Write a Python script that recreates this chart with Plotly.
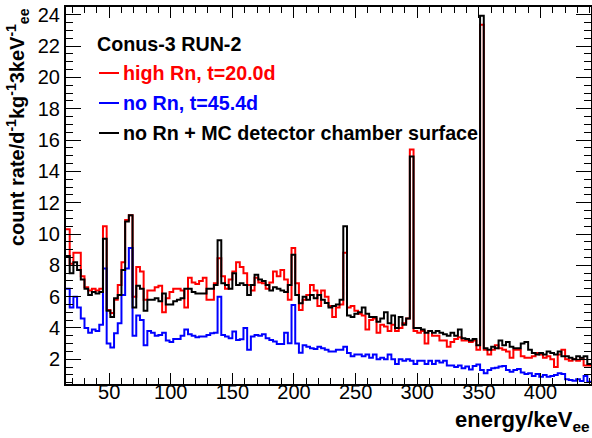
import plotly.graph_objects as go

# ---- data (3 keV bins starting at 15 keV) ----
BIN_START = 15
BIN_WIDTH = 3

high_rn = [
    10.3, 8.1, 8.8, 8.8, 7.3, 6.6, 6.4, 6.5, 6.4, 6.5,
    10.5, 5.15, 4.95, 5.8, 6.75, 8.2, 10.9, 11.2, 6.0, 7.9,
    7.6, 5.8, 6.4, 6.4, 6.6, 6.7, 5.0, 5.9, 6.3, 6.5,
    6.5, 6.4, 5.3, 7.2, 6.9, 6.8,
    7.0, 7.2, 5.8, 5.8, 6.85, 8.45, 7.3, 6.5, 7.1, 7.6,
    8.2, 7.9, 7.5, 6.75, 6.4, 7.2, 6.9, 6.85, 6.5, 6.9,
    7.6, 7.3, 7.7, 7.1, 5.8, 9.1, 6.85, 5.15, 5.8, 6.1,
    6.75, 6.4, 5.4, 6.4, 6.0, 5.4,
    4.7, 5.3, 5.5, 8.8, 5.3, 5.4, 5.1, 4.9, 4.8, 3.9,
    4.5, 4.6, 3.7, 4.2, 4.1, 3.8, 4.2, 3.8, 4.0, 4.3,
    4.6, 15.4, 3.8, 3.7, 3.8, 3.0, 3.8, 3.5, 3.5, 3.2,
    3.2, 2.8, 3.1, 3.3, 3.4, 3.2, 3.2, 3.1, 3.2, 2.6,
    23.36, 2.6, 2.3, 2.6, 2.9, 2.7, 2.6, 2.5, 2.1, 2.6,
    2.6, 2.2, 2.1, 2.1, 2.2, 2.4, 2.3, 2.1, 2.2, 2.0,
    1.5, 2.3, 2.6, 2.0, 1.9, 2.0, 1.9, 2.0, 1.6, 1.6,
]

no_rn = [
    6.5, 5.3, 6.0, 5.3, 4.6, 4.0, 3.7, 3.9, 3.8, 4.2,
    7.8, 3.0, 2.75, 3.66, 4.3, 6.1, 7.8, 9.1, 3.5, 4.8,
    4.5, 2.9, 3.8, 3.7, 3.5, 3.55, 3.7, 3.2, 3.1, 3.3,
    3.3, 3.5, 3.9, 3.6, 3.5, 3.4,
    3.45, 3.45, 3.55, 3.66, 3.7, 6.0, 3.55, 3.45, 3.34, 3.77,
    3.23, 3.28, 4.0, 2.6, 3.45, 3.55, 3.5, 3.6, 3.34, 3.23,
    3.13, 2.98, 2.98, 3.7, 3.02, 5.47, 3.0, 2.42, 2.9, 2.8,
    2.7, 2.65, 2.8, 2.7, 2.6, 2.5,
    2.5, 2.6, 2.6, 2.8, 2.4, 2.2, 2.3, 2.3, 2.2, 2.3,
    2.1, 2.3, 2.0, 2.1, 2.0, 2.3, 2.0, 1.7, 2.0, 1.9,
    2.0, 1.9, 1.7, 1.9, 1.9, 1.7, 1.9, 1.7, 1.9, 1.8,
    1.9, 1.6, 1.6, 1.5, 1.6, 1.42, 1.53, 1.35, 1.57, 1.67,
    1.31, 1.1, 1.31, 1.42, 1.46, 1.53, 1.57, 1.31, 1.2, 1.31,
    1.38, 1.16, 1.06, 1.1, 0.93, 1.06, 0.89, 1.0, 0.89, 0.93,
    1.0, 1.1, 1.06, 0.72, 0.67, 0.63, 0.72, 0.61, 0.93, 0.57,
]

no_rn_mc = [
    8.6, 7.5, 8.2, 7.7, 7.1, 6.5, 6.1, 6.3, 6.2, 6.3,
    9.7, 5.1, 4.7, 5.9, 6.1, 7.7, 10.8, 11.2, 5.3, 6.7,
    6.5, 5.1, 5.8, 5.8, 5.9, 5.7, 6.2, 5.5, 5.5, 5.7,
    5.8, 5.9, 6.5, 6.5, 6.3, 6.2,
    6.2, 6.2, 6.5, 6.5, 6.75, 9.6, 6.85, 6.75, 6.5, 7.5,
    6.75, 6.85, 6.75, 6.1, 6.75, 7.4, 7.1, 7.0, 6.75, 6.4,
    6.6, 6.5, 6.4, 6.3, 6.75, 8.67, 6.1, 5.58, 6.0, 5.8,
    6.1, 5.9, 6.1, 5.8, 5.6, 5.3,
    5.4, 5.5, 5.8, 10.5, 4.8, 4.7, 4.9, 5.0, 5.3, 4.9,
    4.7, 4.7, 4.4, 4.6, 5.0, 4.3, 4.8, 4.0, 4.7, 4.2,
    4.6, 14.95, 4.0, 4.0, 3.9, 3.7, 3.8, 3.7, 3.8, 3.7,
    3.6, 3.5, 3.7, 3.5, 3.9, 3.34, 3.3, 3.2, 3.3, 2.9,
    23.94, 2.7, 2.6, 2.8, 2.7, 3.2, 2.9, 3.1, 2.8, 2.7,
    2.7, 3.0, 3.1, 2.6, 2.4, 2.3, 2.4, 2.3, 2.5, 2.4,
    2.3, 2.5, 2.2, 2.2, 2.1, 2.0, 2.2, 2.1, 2.2, 1.7,
]

series_names = ["high Rn, t=20.0d", "no Rn, t=45.4d", "no Rn + MC detector chamber surface"]
series_colors = ["#ff0000", "#0000ff", "#000000"]
series_values = [high_rn, no_rn, no_rn_mc]
title_text = "Conus-3 RUN-2"

x_ticks = [50, 100, 150, 200, 250, 300, 350, 400]
y_ticks = [2, 4, 6, 8, 10, 12, 14, 16, 18, 20, 22, 24]

FONT = "Liberation Sans, Arial, Helvetica, sans-serif"

n_bins = len(high_rn)
edges = [BIN_START + BIN_WIDTH * i for i in range(n_bins + 1)]

fig = go.Figure()
for name, color, vals in zip(series_names, series_colors, series_values):
    fig.add_trace(go.Scatter(
        x=edges, y=list(vals) + [vals[-1]],
        mode="lines", line=dict(color=color, width=2, shape="hv"),
        name=name, showlegend=False, hoverinfo="skip",
    ))

W, H = 592, 438
L, R, T, B = 66, 1, 7, 54
pw, ph = W - L - R, H - T - B

def px_x(x):
    return (x - L) / pw

def px_y(y):
    return (H - B - y) / ph

fig.update_layout(
    width=W, height=H,
    margin=dict(l=L, r=R, t=T, b=B, pad=0),
    paper_bgcolor="white", plot_bgcolor="white",
    font=dict(family=FONT, size=20, color="black"),
    showlegend=False,
    xaxis=dict(
        range=[BIN_START, BIN_START + BIN_WIDTH * n_bins],
        tickmode="array", tickvals=x_ticks, ticktext=[str(v) for v in x_ticks],
        ticks="inside", ticklen=11, tickwidth=1, tickcolor="black",
        minor=dict(ticks="inside", ticklen=6, tickwidth=1, dtick=10, tick0=0, tickcolor="black"),
        showline=True, linewidth=2, linecolor="black", mirror="allticks",
        showgrid=False, zeroline=False, automargin=False,
        tickfont=dict(family=FONT, size=20, color="black"),
        ticklabelstandoff=-11,
    ),
    yaxis=dict(
        range=[0.42, 24.5],
        tickmode="array", tickvals=y_ticks, ticktext=[str(v) for v in y_ticks],
        ticks="inside", ticklen=15, tickwidth=1, tickcolor="black",
        minor=dict(ticks="inside", ticklen=7, tickwidth=1, dtick=0.5, tick0=0, tickcolor="black"),
        showline=True, linewidth=2, linecolor="black", mirror="allticks",
        showgrid=False, zeroline=False, automargin=False,
        tickfont=dict(family=FONT, size=20, color="black"),
        ticklabelstandoff=0,
    ),
)

# legend (drawn as text + short line samples, ROOT-style)
legend_rows_y = [73, 103, 133]
LEG_SIZE = 19.7
fig.add_annotation(
    xref="paper", yref="paper", x=px_x(95), y=px_y(44),
    xanchor="left", yanchor="middle", showarrow=False,
    text="<b>" + title_text + "</b>", font=dict(family=FONT, size=LEG_SIZE, color="black"),
)
for name, color, yy in zip(series_names, series_colors, legend_rows_y):
    fig.add_shape(type="line", xref="paper", yref="paper",
                  x0=px_x(99), x1=px_x(119), y0=px_y(yy), y1=px_y(yy),
                  line=dict(color=color, width=2))
    fig.add_annotation(
        xref="paper", yref="paper", x=px_x(121), y=px_y(yy),
        xanchor="left", yanchor="middle", showarrow=False,
        text="<b>" + name + "</b>", font=dict(family=FONT, size=LEG_SIZE, color=color),
    )

# axis titles
fig.add_annotation(
    xref="paper", yref="paper", x=1, y=0, xshift=1, yshift=-53,
    xanchor="right", yanchor="bottom", showarrow=False,
    text="<b>energy/keV<sub>ee</sub></b>", font=dict(family=FONT, size=22, color="black"),
)
fig.add_annotation(
    xref="paper", yref="paper", x=px_x(17), y=1, yshift=1,
    xanchor="center", yanchor="top", showarrow=False, textangle=-90,
    text="<b>count rate/d<sup>-1</sup>kg<sup>-1</sup>3keV<sup>-1</sup><sub>ee</sub></b>",
    font=dict(family=FONT, size=20, color="black"),
)

fig.write_html("out.html", config={"displayModeBar": False},
               post_script="document.body.style.margin='0px';")
